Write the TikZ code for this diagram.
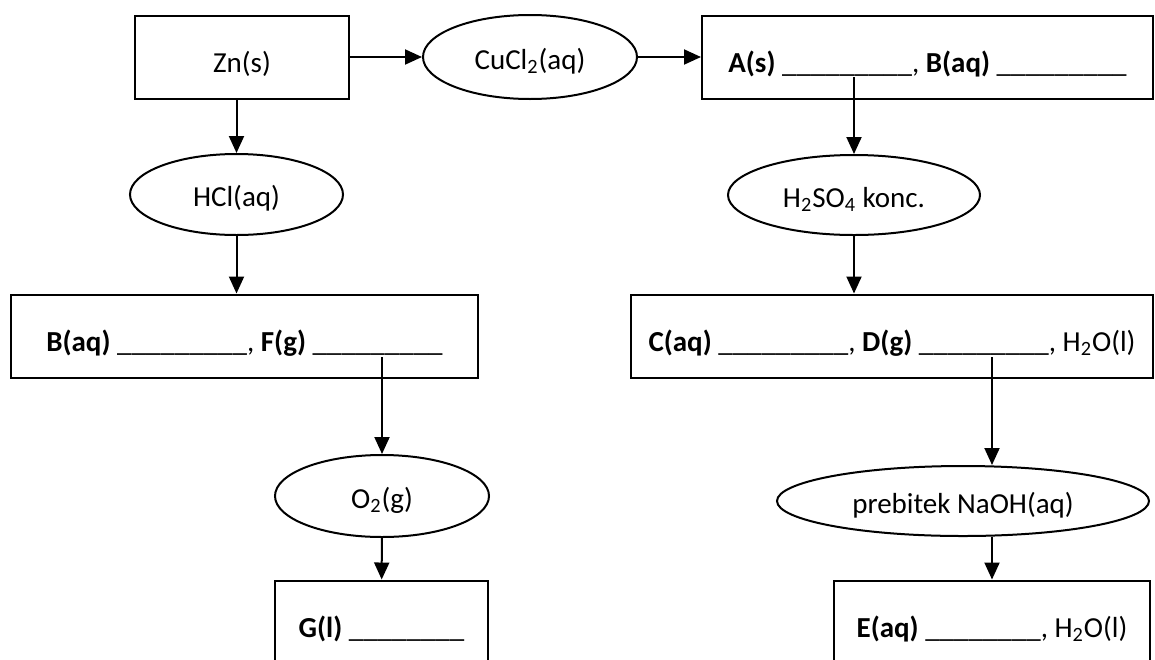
\documentclass[tikz,border=0pt]{standalone}
\usepackage{fontspec}
\setmainfont{Carlito}
\usetikzlibrary{arrows.meta,shapes.geometric}

\newcommand{\blanknine}{\_\_\_\_\_\_\_\_\_}
\newcommand{\blankeight}{\_\_\_\_\_\_\_\_}

\tikzset{
    box/.style={draw,line width=1pt,rectangle,inner sep=0pt,
        text height=18pt,text depth=3pt,minimum height=41.5pt},
    oval/.style={draw,line width=1pt,ellipse,inner sep=0pt,
        text height=15pt,text depth=3pt},
    flow/.style={->,line width=1pt}
}

\begin{document}
\begin{tikzpicture}[x=0.5pt,y=-0.5pt,>={Triangle[length=8.5pt,width=7.5pt]},
    font=\fontsize{14.5}{17}\selectfont]
    \useasboundingbox (0,0) rectangle (1155,659);
    \clip (0,0) rectangle (1155,659);

    % top row
    \node[box,minimum width=107pt] (zn) at (242,57) {Zn(s)};
    \node[oval,minimum width=107pt,minimum height=42pt] (cucl) at (530,57)
        {CuCl\textsubscript{2}(aq)};
    \node[box,minimum width=225.5pt] (ab) at (927.5,57)
        {\textbf{A(s)} \blanknine, \textbf{B(aq)} \blanknine};

    % reagents
    \node[oval,minimum width=106.5pt,minimum height=40.5pt] (hcl) at (236.5,194.5)
        {HCl(aq)};
    \node[oval,minimum width=126pt,minimum height=40pt] (h2so) at (854,195)
        {H\textsubscript{2}SO\textsubscript{4} konc.};

    % middle row
    \node[box,minimum width=233.5pt] (bf) at (244.5,336)
        {\textbf{B(aq)} \blanknine, \textbf{F(g)} \blanknine};
    \node[box,minimum width=261pt] (cd) at (892,336)
        {\textbf{C(aq)} \blanknine, \textbf{D(g)} \blanknine, H\textsubscript{2}O(l)};

    \node[oval,minimum width=107pt,minimum height=41pt] (o2) at (382,496)
        {O\textsubscript{2}(g)};
    \node[oval,minimum width=186pt,minimum height=35pt] (naoh) at (963,501)
        {prebitek NaOH(aq)};

    % bottom row
    \node[box,minimum width=106.5pt] (g) at (381.5,622)
        {\textbf{G(l)} \blankeight};
    \node[box,minimum width=158pt] (e) at (992,622)
        {\textbf{E(aq)} \blankeight, H\textsubscript{2}O(l)};

    % lines leave the boxes from the blanks
    \coordinate (aout) at (854,77);
    \coordinate (bfout) at (382,357);
    \coordinate (cdout) at (992,357);

    \draw[flow] (zn) -- (cucl);
    \draw[flow] (cucl) -- (ab);
    \draw[flow] (zn.south -| hcl.north) -- (hcl.north);
    \draw[flow] (hcl) -- (hcl |- bf.north);
    \draw[flow] (aout) -- (h2so.north);
    \draw[flow] (h2so) -- (h2so |- cd.north);
    \draw[flow] (bfout) -- (o2.north);
    \draw[flow] (cdout) -- (cdout |- naoh.north);
    \draw[flow] (o2) -- (g);
    \draw[flow] (naoh.south -| e.north) -- (e.north);
\end{tikzpicture}
\end{document}
